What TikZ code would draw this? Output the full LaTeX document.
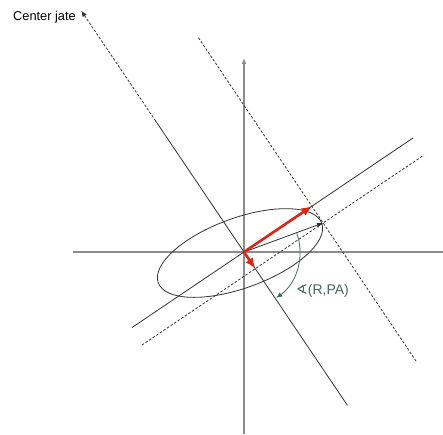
\documentclass[tikz,border=0pt]{standalone}
\usepackage{fontspec}
\setmainfont{Liberation Sans}
\newfontfamily\symfont{DejaVu Sans}
\usetikzlibrary{arrows.meta}
\definecolor{axisgray}{RGB}{140,140,140}
\definecolor{linegray}{RGB}{50,50,50}
\definecolor{vecred}{RGB}{225,35,20}
\definecolor{arcgreen}{RGB}{70,100,95}
\tikzset{
  ax/.style={draw=axisgray, line width=1.4pt},
  ln/.style={draw=linegray, line width=0.8pt},
  dsh/.style={ln, dash pattern=on 2.5pt off 1.8pt},
  vec/.style={draw=vecred, line width=2.6pt, -{Latex[length=10.5pt,width=9pt]}},
  tip/.style={-{Latex[length=6pt,width=5pt]}}}

\begin{document}
\begin{tikzpicture}[x=1pt,y=1pt]
  \useasboundingbox (-244,-182) rectangle (199,252);
    \coordinate (o) at (0,0);
    \coordinate (h1) at (-171,0);
    \coordinate (h2) at (199,0);
    \coordinate (v1) at (0,-182);
    \coordinate (v2) at (0,194);
    \coordinate (m1) at (34:204);
    \coordinate (m2) at (214:135);
    \coordinate (n1) at (124:158);
    \coordinate (n2) at (-56:185);
    \coordinate (n3) at (124:291);
    \coordinate (t) at (79,29);
    \coordinate (d1) at (180,97);
    \coordinate (d2) at (-102,-93);
    \coordinate (e1) at (-46,215);
    \coordinate (e2) at (172,-109);
    \coordinate (p) at (34:82);
    \coordinate (q) at (-56:20);
    \coordinate (c) at (-4,-1);
  \draw[ax] (h1) -- (h2);
  \draw[ax, tip] (v1) -- (v2);
  \draw[ln] (m2) -- (m1);
  \draw[ln] (n1) -- (n2);
  \draw[dsh, tip] (n1) -- (n3);
  \draw[dsh] (d2) -- (d1);
  \draw[dsh] (e2) -- (e1);
  \draw[ln] (c) ellipse [x radius=87, y radius=35, rotate=20];
  \draw[ln, tip] (o) -- (t);
  \draw[vec] (o) -- (p);
  \draw[vec] (o) -- (q);
  \draw[draw=arcgreen, line width=0.8pt, tip] (19.5:56) arc (19.5:-55:56);
  \node[anchor=base west, inner sep=0pt, text=arcgreen, font=\fontsize{14}{16}\selectfont]
    (angle) at (52,-42) {{\symfont ∢}(R,PA)};
  \node[anchor=base west, inner sep=0pt, font=\fontsize{12.8}{15}\selectfont]
    (center) at (-231,231) {Center jate};
\end{tikzpicture}
\end{document}
